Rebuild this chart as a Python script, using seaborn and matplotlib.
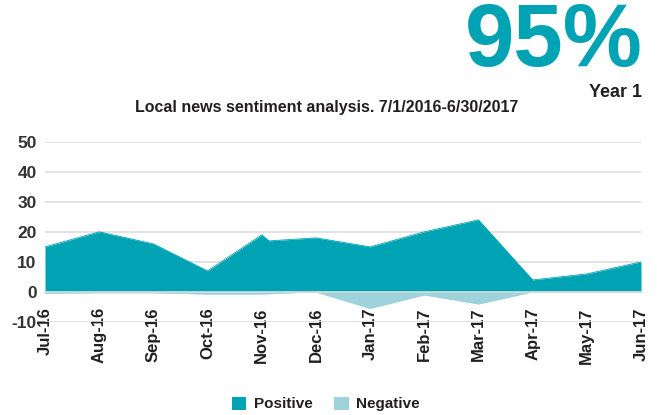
import matplotlib
matplotlib.use("Agg")
import matplotlib.pyplot as plt
from matplotlib.patches import Patch
import pandas as pd
import seaborn as sns

# Monthly labels on the x axis
months = ["Jul-16", "Aug-16", "Sep-16", "Oct-16", "Nov-16", "Dec-16",
          "Jan-17", "Feb-17", "Mar-17", "Apr-17", "May-17", "Jun-17"]

# Positive sentiment (one extra reading early in November)
pos_dates = ["2016-07-01", "2016-08-01", "2016-09-01", "2016-10-01", "2016-11-01",
             "2016-11-05", "2016-12-01", "2017-01-01", "2017-02-01", "2017-03-01",
             "2017-04-01", "2017-05-01", "2017-06-01"]
pos_values = [15, 20, 16, 7, 19, 17, 18, 15, 20, 24, 4, 6, 10]

# Negative sentiment
neg_dates = ["2016-07-01", "2016-08-01", "2016-09-01", "2016-10-01", "2016-11-01",
             "2016-12-01", "2017-01-01", "2017-02-01", "2017-03-01", "2017-04-01",
             "2017-05-01", "2017-06-01"]
neg_values = [-0.5, -0.3, -0.3, -0.7, -0.7, 0, -5.5, -1, -4, 0, 0, 0]

y_ticks = [-10, 0, 10, 20, 30, 40, 50]
headline = "95%"
headline_sub = "Year 1"
title = "Local news sentiment analysis. 7/1/2016-6/30/2017"

POS_COLOR = "#00a3b4"
NEG_COLOR = "#9fd3dc"
GRID_COLOR = "#dddddd"
TEXT_COLOR = "#231f20"


def month_pos(d):
    """Position on a month-indexed axis (Jul-16 = 0), fractional within a month."""
    t = pd.Timestamp(d)
    idx = (t.year - 2016) * 12 + t.month - 7
    return idx + (t.day - 1) / t.days_in_month


pos_df = pd.DataFrame({"x": [month_pos(d) for d in pos_dates], "value": pos_values})
neg_df = pd.DataFrame({"x": [month_pos(d) for d in neg_dates], "value": neg_values})

sns.set_theme(style="white")
plt.rcParams["font.family"] = ["Liberation Sans", "DejaVu Sans"]

fig = plt.figure(figsize=(6.67, 4.15), dpi=100)
ax = fig.add_axes([45 / 667, 1 - 322 / 415, 596 / 667, (322 - 141.7) / 415])

# Areas
sns.lineplot(data=pos_df, x="x", y="value", ax=ax, color=POS_COLOR, linewidth=0.6, zorder=2)
ax.fill_between(pos_df["x"], 0, pos_df["value"], color=POS_COLOR, linewidth=0, zorder=2)
sns.lineplot(data=neg_df, x="x", y="value", ax=ax, color=NEG_COLOR, linewidth=0.6, zorder=2)
ax.fill_between(neg_df["x"], 0, neg_df["value"], color=NEG_COLOR, linewidth=0, zorder=2)

ax.set_xlim(0, len(months) - 1)
ax.set_ylim(-10, 50)
ax.set_yticks(y_ticks)
ax.set_yticklabels([str(v) for v in y_ticks])
ax.set_xticks(range(len(months)))
ax.set_xticklabels(months)
ax.set_xlabel("")
ax.set_ylabel("")

# Horizontal gridlines behind the areas
ax.yaxis.grid(True, color=GRID_COLOR, linewidth=1.2, zorder=0)
ax.set_axisbelow(True)
ax.xaxis.grid(False)

for side in ["left", "right", "top"]:
    ax.spines[side].set_visible(False)
ax.spines["bottom"].set_position(("data", 0))
ax.spines["bottom"].set_color(GRID_COLOR)
ax.spines["bottom"].set_linewidth(1.2)
ax.spines["bottom"].set_zorder(3)

ax.tick_params(axis="x", direction="out", length=3, width=1, color="#cccccc", pad=8)
ax.tick_params(axis="y", length=0, pad=6)
for lbl in ax.get_xticklabels():
    lbl.set_rotation(90)
    lbl.set_ha("center")
    lbl.set_va("top")
    lbl.set_fontsize(12)
    lbl.set_fontweight("bold")
    lbl.set_color(TEXT_COLOR)
for lbl in ax.get_yticklabels():
    lbl.set_fontsize(12.5)
    lbl.set_fontweight("bold")
    lbl.set_color("#333333")

# Headline figure and titles
fig.text(643 / 667, 1 - 43 / 415, headline, ha="right", va="center", fontsize=64,
         fontweight="bold", color=POS_COLOR)
fig.text(642 / 667, 1 - 92.5 / 415, headline_sub, ha="right", va="center", fontsize=13,
         fontweight="bold", color=TEXT_COLOR)
fig.text(327 / 667, 1 - 107.5 / 415, title, ha="center", va="center", fontsize=11.5,
         fontweight="bold", color=TEXT_COLOR)

handles = [Patch(facecolor=POS_COLOR, edgecolor="none", label="Positive"),
           Patch(facecolor=NEG_COLOR, edgecolor="none", label="Negative")]
fig.legend(handles=handles, loc="center", bbox_to_anchor=(326 / 667, 1 - 404 / 415),
           ncol=2, frameon=False, handlelength=0.95, handleheight=0.95, handletextpad=0.5,
           columnspacing=1.4, prop={"size": 11, "weight": "bold"}, labelcolor=TEXT_COLOR)

fig.savefig("out.png", dpi=100)
